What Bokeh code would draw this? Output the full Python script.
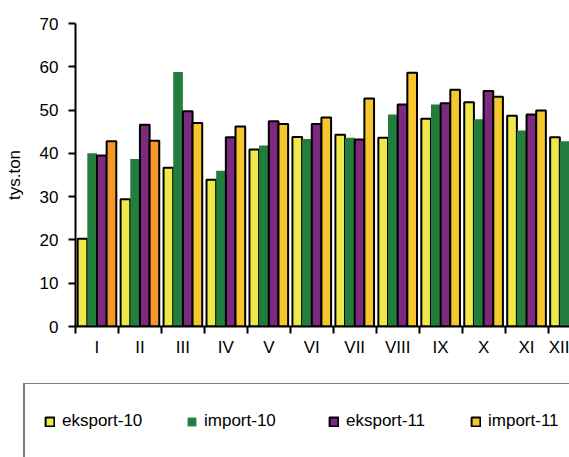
import numpy as np
from bokeh.plotting import figure
from bokeh.layouts import column
from bokeh.models import ColumnDataSource, Range1d, FixedTicker, Legend, LegendItem
from bokeh.embed import file_html
from bokeh.resources import INLINE

months = ["I", "II", "III", "IV", "V", "VI", "VII", "VIII", "IX", "X", "XI", "XII"]
eksport_10 = [20.3, 29.4, 36.7, 33.9, 40.9, 43.8, 44.3, 43.6, 48.0, 51.8, 48.7, 43.7]
import_10 = [40.0, 38.7, 58.8, 36.0, 41.8, 43.3, 43.6, 49.0, 51.3, 47.9, 45.3, 42.8]
eksport_11 = [39.5, 46.6, 49.7, 43.7, 47.4, 46.8, 43.2, 51.3, 51.6, 54.4, 49.0, float("nan")]
import_11 = [42.8, 42.9, 47.0, 46.2, 46.8, 48.3, 52.7, 58.6, 54.7, 53.1, 49.9, float("nan")]
series_names = ["eksport-10", "import-10", "eksport-11", "import-11"]
y_ticks = [0, 10, 20, 30, 40, 50, 60, 70]

YELLOW = "#EEE84A"
GREEN = "#237D3D"
PURPLE = "#7B2A7E"
GOLD = "#F5C72D"
ORANGE = "#F5982A"
import_11_colors = [ORANGE, ORANGE] + [GOLD] * 10

FONT = "Liberation Sans"

centers = np.arange(len(months)) + 0.5
bw = 0.225
offsets = [-1.5 * bw, -0.5 * bw, 0.5 * bw, 1.5 * bw]

src = ColumnDataSource(dict(
    x0=centers + offsets[0], x1=centers + offsets[1],
    x2=centers + offsets[2], x3=centers + offsets[3],
    e10=eksport_10, i10=import_10, e11=eksport_11, i11=import_11,
    c11=import_11_colors,
))


def add_bars(fig):
    r0 = fig.vbar(x="x0", top="e10", width=bw, source=src, fill_color=YELLOW,
                  line_color="black", line_width=2)
    r1 = fig.vbar(x="x1", top="i10", width=bw, source=src, fill_color=GREEN,
                  line_color=None)
    r2 = fig.vbar(x="x2", top="e11", width=bw, source=src, fill_color=PURPLE,
                  line_color="black", line_width=2)
    r3 = fig.vbar(x="x3", top="i11", width=bw, source=src, fill_color="c11",
                  line_color="black", line_width=2)
    return [r0, r1, r2, r3]


# ---- main chart
p = figure(width=569, height=383, output_backend="svg", toolbar_location=None,
           x_range=Range1d(0, 11.5), y_range=Range1d(0, 70),
           min_border_left=75, min_border_right=0, min_border_top=23,
           min_border_bottom=57)
p.frame_align = False
p.outline_line_color = None
p.xgrid.grid_line_color = None
p.ygrid.grid_line_color = None
p.background_fill_color = "white"
p.border_fill_color = "white"
add_bars(p)

xa = p.xaxis[0]
xa.ticker = FixedTicker(ticks=list(centers), minor_ticks=list(range(0, 13)))
xa.major_label_overrides = {float(c): m for c, m in zip(centers, months)}
xa.major_tick_line_color = None
xa.minor_tick_out = 7
xa.minor_tick_in = 0
xa.minor_tick_line_width = 2
xa.minor_tick_line_color = "black"
xa.axis_line_width = 2
xa.axis_line_color = "black"
xa.major_label_standoff = 4
xa.major_label_text_font = FONT
xa.major_label_text_font_size = "17px"
xa.major_label_text_color = "black"

ya = p.yaxis[0]
ya.ticker = FixedTicker(ticks=y_ticks, minor_ticks=[])
ya.major_tick_out = 7
ya.major_tick_in = 0
ya.major_tick_line_width = 2
ya.axis_line_width = 2
ya.axis_line_color = "black"
ya.major_label_standoff = 10
ya.major_label_text_font = FONT
ya.major_label_text_font_size = "17px"
ya.major_label_text_color = "black"
ya.axis_label = "tys.ton"
ya.axis_label_text_font = FONT
ya.axis_label_text_font_size = "17px"
ya.axis_label_text_font_style = "normal"
ya.axis_label_text_color = "black"
ya.axis_label_standoff = 13

# ---- legend panel (separate figure below the chart)
lg = figure(width=569, height=74, output_backend="svg", toolbar_location=None,
            x_range=Range1d(100, 101), y_range=Range1d(100, 101),
            x_axis_location=None, y_axis_location=None,
            min_border=0, min_border_left=0, min_border_right=0,
            min_border_top=0, min_border_bottom=0)
lg.frame_align = False
lg.xgrid.grid_line_color = None
lg.ygrid.grid_line_color = None
lg.outline_line_color = None
lg.background_fill_color = "white"
lg.border_fill_color = "white"
lr = add_bars(lg)
for r in lr:
    r.visible = False

legend = Legend(items=[
    LegendItem(label=series_names[0], renderers=[lr[0]]),
    LegendItem(label=series_names[1], renderers=[lr[1]]),
    LegendItem(label=series_names[2], renderers=[lr[2]]),
    LegendItem(label=series_names[3], renderers=[lr[3]], index=5),
], orientation="horizontal", location=(23, -3))
legend.glyph_width = 11
legend.glyph_height = 11
legend.label_standoff = 7
legend.label_width = 119
legend.label_height = 36
legend.spacing = 5
legend.padding = 19
legend.margin = 0
legend.border_line_color = "black"
legend.border_line_width = 2
legend.background_fill_color = "white"
legend.background_fill_alpha = 1
legend.label_text_font = FONT
legend.label_text_font_size = "17px"
legend.label_text_color = "black"
lg.add_layout(legend, "center")

layout = column(p, lg, spacing=0)
open("out.html", "w").write(file_html(layout, INLINE))
